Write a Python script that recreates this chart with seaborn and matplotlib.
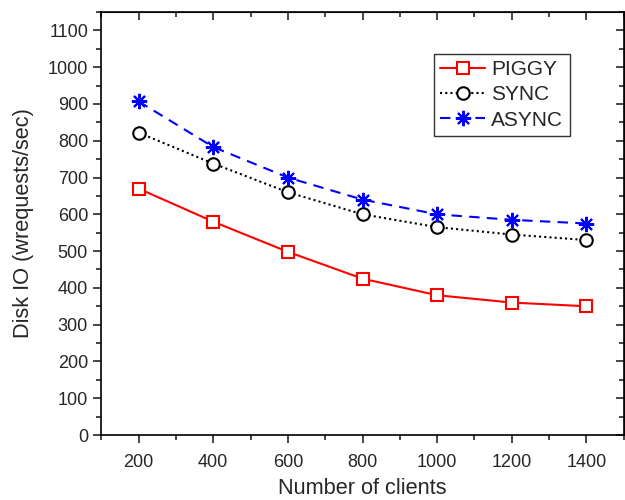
import numpy as np
import pandas as pd
import matplotlib
matplotlib.use("Agg")
import matplotlib.pyplot as plt
import seaborn as sns
from matplotlib.ticker import MultipleLocator, NullFormatter

clients = [200, 400, 600, 800, 1000, 1200, 1400]
piggy = [670, 580, 498, 425, 380, 360, 350]
sync = [822, 738, 660, 600, 565, 545, 530]
async_ = [907, 783, 700, 640, 600, 585, 575]
series_names = ["PIGGY", "SYNC", "ASYNC"]

df = pd.DataFrame({
    "Number of clients": clients * 3,
    "Disk IO": piggy + sync + async_,
    "Scheme": [n for n in series_names for _ in clients],
})

sns.set_style("ticks")
plt.rcParams["font.family"] = ["Liberation Sans", "DejaVu Sans"]

fig = plt.figure(figsize=(6.25, 5), dpi=100)
ax = fig.add_axes([0.162, 0.13, 0.836, 0.846])

palette = {"PIGGY": "#ff0000", "SYNC": "#000000", "ASYNC": "#0000ff"}
styles = {
    "PIGGY": dict(ls="-", marker="s", ms=8, mfc="white"),
    "SYNC": dict(ls=(0, (1, 1.5)), marker="o", ms=9, mfc="white"),
    "ASYNC": dict(ls=(0, (5, 3.5)), marker=(8, 2, 0), ms=11, mfc="none"),
}
for name in series_names:
    sub = df[df["Scheme"] == name]
    st = styles[name]
    sns.lineplot(data=sub, x="Number of clients", y="Disk IO", ax=ax,
                 color=palette[name], linestyle=st["ls"], marker=st["marker"],
                 markersize=st["ms"], markerfacecolor=st["mfc"],
                 markeredgecolor=palette[name], markeredgewidth=1.5,
                 linewidth=1.5, label=name)

ax.set_xlim(100, 1500)
ax.set_ylim(0, 1150)
ax.xaxis.set_major_locator(MultipleLocator(200))
ax.xaxis.set_minor_locator(MultipleLocator(100))
ax.yaxis.set_major_locator(MultipleLocator(100))
ax.yaxis.set_minor_locator(MultipleLocator(50))
ax.tick_params(which="both", labelsize=13, width=1.2, direction="out")
ax.tick_params(which="major", length=6)
ax.tick_params(which="minor", length=3.5)
ax.tick_params(axis="x", which="major", pad=7.5)
for s in ax.spines.values():
    s.set_linewidth(1.2)
    s.set_color("black")

# inward ticks on the top and right edges
top = ax.secondary_xaxis("top")
top.xaxis.set_major_locator(MultipleLocator(200))
top.xaxis.set_minor_locator(MultipleLocator(100))
top.xaxis.set_major_formatter(NullFormatter())
right = ax.secondary_yaxis("right")
right.yaxis.set_major_locator(MultipleLocator(100))
right.yaxis.set_minor_locator(MultipleLocator(50))
right.yaxis.set_major_formatter(NullFormatter())
for sec in (top, right):
    sec.tick_params(which="both", direction="in", width=1.2)
    sec.tick_params(which="major", length=6)
    sec.tick_params(which="minor", length=3.5)

ax.set_xlabel("Number of clients", fontsize=15.7, labelpad=5)
ax.set_ylabel("Disk IO (wrequests/sec)", fontsize=15.7, labelpad=10)

leg = ax.legend(loc="upper left", bbox_to_anchor=(0.637, 0.901),
                borderaxespad=0, fontsize=15,
                frameon=True, fancybox=False, edgecolor="black",
                handlelength=2.15, borderpad=0.3, labelspacing=0.3,
                handletextpad=0.3)
leg.get_frame().set_linewidth(1.0)

fig.savefig("out.png", dpi=100)
